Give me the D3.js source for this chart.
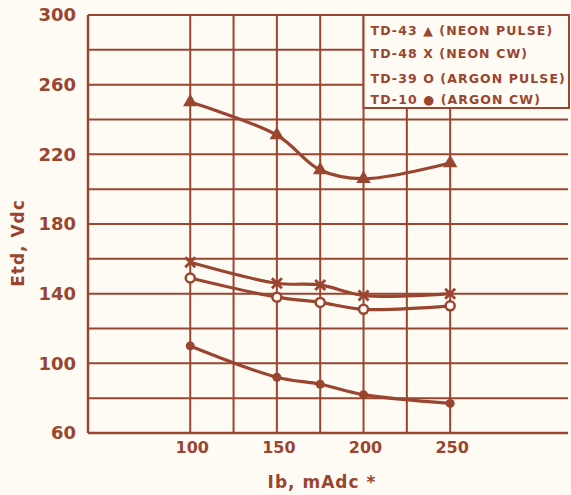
<!DOCTYPE html>
<html>
<head>
<meta charset="utf-8">
<script src="https://cdn.jsdelivr.net/npm/d3@7"></script>
<style>
  body { margin: 0; background: #fdfbf4; }
  svg text { font-family: "DejaVu Sans", sans-serif; fill: #9a4530; font-weight: bold; }
</style>
</head>
<body>
<div id="chart"></div>
<script>
// Values
const currents = [100, 150, 175, 200, 250];           // Ib, mAdc
const neonPulse = [250, 231, 211, 206, 215];          // TD-43
const neonCw = [158, 146, 145, 139, 140];             // TD-48
const argonPulse = [149, 138, 135, 131, 133];         // TD-39
const argonCw = [110, 92, 88, 82, 77];                // TD-10
const xTicks = [100, 150, 200, 250];
const xGrid = [100, 125, 150, 175, 200, 225, 250];
const yTicks = [60, 100, 140, 180, 220, 260, 300];
const yGrid = d3.range(60, 301, 20);
const legendLines = [
  'TD-43 \u25B2 (NEON PULSE)',
  'TD-48 X (NEON  CW)',
  'TD-39 O (ARGON PULSE)',
  'TD-10 \u25CF (ARGON  CW)'
];

const ink = '#9a4530';
const paper = '#fdfbf4';
const W = 571, H = 495;
const plotL = 88, plotR = 568, plotT = 15, plotB = 433;

const svg = d3.select('#chart').append('svg')
  .attr('width', W).attr('height', H);

const x = d3.scaleLinear().domain([41, 318]).range([plotL, plotR]);
const y = d3.scaleLinear().domain([60, 300]).range([plotB, plotT]);

// Grid
svg.append('g').selectAll('line').data(yGrid).enter().append('line')
  .attr('x1', plotL).attr('x2', plotR)
  .attr('y1', d => y(d)).attr('y2', d => y(d))
  .attr('stroke', ink).attr('stroke-width', 2);
svg.append('g').selectAll('line').data(xGrid).enter().append('line')
  .attr('x1', d => x(d)).attr('x2', d => x(d))
  .attr('y1', plotT).attr('y2', plotB)
  .attr('stroke', ink).attr('stroke-width', 2);
// Frame
svg.append('line')
  .attr('x1', plotL).attr('x2', plotL).attr('y1', plotT).attr('y2', plotB)
  .attr('stroke', ink).attr('stroke-width', 2.5);
svg.append('line')
  .attr('x1', plotL).attr('x2', plotR).attr('y1', plotB).attr('y2', plotB)
  .attr('stroke', ink).attr('stroke-width', 2.5);

// Legend box (covers the grid behind it)
const lx = x(200), ly = plotT;
svg.append('rect')
  .attr('x', lx).attr('y', ly)
  .attr('width', 569 - lx).attr('height', 93)
  .attr('fill', paper)
  .attr('stroke', ink).attr('stroke-width', 2);
svg.append('g').selectAll('text').data(legendLines).enter().append('text')
  .attr('x', lx + 7)
  .attr('y', (d, i) => [30, 53, 78, 99][i])
  .attr('dy', '0.36em')
  .style('font-size', '12.5px')
  .style('letter-spacing', '1.1px')
  .text(d => d);

// Y axis labels
svg.append('g').selectAll('text').data(yTicks).enter().append('text')
  .attr('x', 76).attr('y', d => y(d))
  .attr('dy', '0.36em')
  .attr('text-anchor', 'end')
  .style('font-size', '18px')
  .text(d => d);
// X axis labels
svg.append('g').selectAll('text').data(xTicks).enter().append('text')
  .attr('x', d => x(d) + 2).attr('y', 447)
  .attr('dy', '0.36em')
  .attr('text-anchor', 'middle')
  .style('font-size', '16px')
  .text(d => d);

svg.append('text')
  .attr('x', 322).attr('y', 482).attr('dy', '0.36em')
  .attr('text-anchor', 'middle')
  .style('font-size', '17px')
  .style('letter-spacing', '1px')
  .text('Ib, mAdc  *');
svg.append('text')
  .attr('transform', 'translate(18,243) rotate(-90)')
  .attr('dy', '0.36em')
  .attr('text-anchor', 'middle')
  .style('font-size', '17px')
  .style('letter-spacing', '1px')
  .text('Etd, Vdc');

// Curves
const line = d3.line()
  .x((d, i) => x(currents[i]))
  .y(d => y(d))
  .curve(d3.curveCatmullRom.alpha(0.5));
[neonPulse, neonCw, argonPulse, argonCw].forEach(s => {
  svg.append('path').datum(s)
    .attr('d', line)
    .attr('fill', 'none')
    .attr('stroke', ink)
    .attr('stroke-width', 3.2);
});

// Markers
svg.append('g').selectAll('path').data(neonPulse).enter().append('path')
  .attr('transform', (d, i) => `translate(${x(currents[i])},${y(d)})`)
  .attr('d', d3.symbol(d3.symbolTriangle, 90))
  .attr('fill', ink);
svg.append('g').selectAll('path').data(neonCw).enter().append('path')
  .attr('transform', (d, i) => `translate(${x(currents[i])},${y(d)})`)
  .attr('d', 'M-5,-5L5,5M-5,5L5,-5')
  .attr('stroke', ink).attr('stroke-width', 2.8);
svg.append('g').selectAll('circle').data(argonPulse).enter().append('circle')
  .attr('cx', (d, i) => x(currents[i])).attr('cy', d => y(d))
  .attr('r', 4.5)
  .attr('fill', paper).attr('stroke', ink).attr('stroke-width', 2.5);
svg.append('g').selectAll('circle').data(argonCw).enter().append('circle')
  .attr('cx', (d, i) => x(currents[i])).attr('cy', d => y(d))
  .attr('r', 4.5)
  .attr('fill', ink);
</script>
</body>
</html>
